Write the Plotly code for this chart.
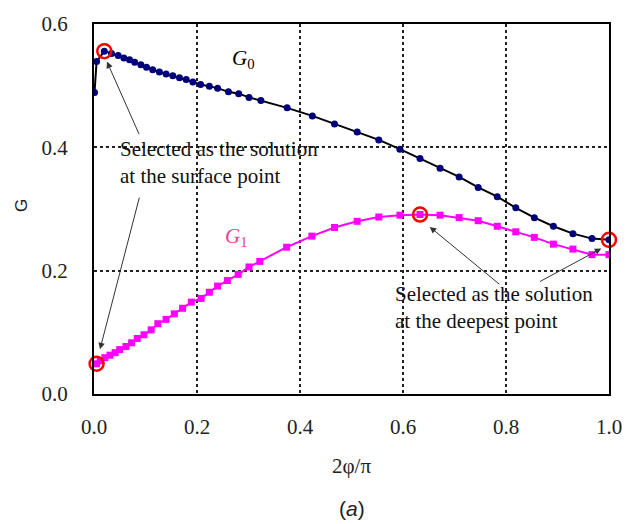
import plotly.graph_objects as go

# G0 series
g0_x = [0.001, 0.005, 0.020, 0.034, 0.047, 0.058, 0.069, 0.079, 0.091, 0.102, 0.114, 0.127,
        0.140, 0.153, 0.166, 0.179, 0.192, 0.207, 0.224, 0.240, 0.261, 0.281, 0.301, 0.324,
        0.375, 0.424, 0.467, 0.511, 0.553, 0.594, 0.633, 0.672, 0.709, 0.746, 0.783, 0.819,
        0.855, 0.892, 0.930, 0.967, 1.0]
g0_y = [0.489, 0.539, 0.556, 0.552, 0.549, 0.545, 0.542, 0.538, 0.534, 0.530, 0.526, 0.522,
        0.519, 0.516, 0.513, 0.510, 0.506, 0.502, 0.499, 0.496, 0.490, 0.487, 0.481, 0.476,
        0.464, 0.451, 0.438, 0.425, 0.412, 0.397, 0.382, 0.366, 0.352, 0.335, 0.320, 0.302,
        0.286, 0.272, 0.260, 0.252, 0.250]

# G1 series
g1_x = [0.005, 0.012, 0.021, 0.031, 0.041, 0.050, 0.062, 0.073, 0.084, 0.097, 0.111, 0.124,
        0.140, 0.156, 0.172, 0.189, 0.208, 0.224, 0.240, 0.259, 0.280, 0.301, 0.322, 0.374,
        0.423, 0.467, 0.511, 0.553, 0.594, 0.633, 0.672, 0.709, 0.746, 0.783, 0.819, 0.855,
        0.892, 0.930, 0.967, 1.0]
g1_y = [0.049, 0.054, 0.059, 0.063, 0.067, 0.072, 0.077, 0.083, 0.090, 0.096, 0.104, 0.114,
        0.121, 0.130, 0.139, 0.149, 0.155, 0.165, 0.175, 0.184, 0.194, 0.206, 0.215, 0.238,
        0.256, 0.270, 0.280, 0.287, 0.290, 0.291, 0.290, 0.286, 0.281, 0.272, 0.263, 0.254,
        0.243, 0.235, 0.226, 0.226]

# Selected solutions (red circles)
sel_x = [0.020, 0.005, 0.633, 1.0]
sel_y = [0.556, 0.049, 0.291, 0.250]

tick_vals = [0.0, 0.2, 0.4, 0.6, 0.8, 1.0]
tick_text = ["0.0", "0.2", "0.4", "0.6", "0.8", "1.0"]
ytick_vals = [0.0, 0.2, 0.4, 0.6]
ytick_text = ["0.0", "0.2", "0.4", "0.6"]

serif = "Liberation Serif"

fig = go.Figure()
fig.add_trace(go.Scatter(x=g0_x, y=g0_y, mode="lines+markers",
                         line=dict(color="black", width=2),
                         marker=dict(color="#00007a", size=7, symbol="circle"),
                         showlegend=False))
fig.add_trace(go.Scatter(x=g1_x, y=g1_y, mode="lines+markers",
                         line=dict(color="#ff00ff", width=2),
                         marker=dict(color="#ff00ff", size=7, symbol="square"),
                         showlegend=False))
fig.add_trace(go.Scatter(x=sel_x, y=sel_y, mode="markers",
                         marker=dict(symbol="circle-open", size=14, color="#ff0000",
                                     line=dict(width=2.5, color="#ff0000")),
                         showlegend=False, cliponaxis=False))

ann = []
txt_font = dict(family=serif, size=21, color="#111")
ann.append(dict(x=0.046, y=0.376, xref="x", yref="y", xanchor="left", yanchor="middle",
                align="left", showarrow=False, font=txt_font,
                text="Selected as the solution<br>at the surface point"))
ann.append(dict(x=0.581, y=0.140, xref="x", yref="y", xanchor="left", yanchor="middle",
                align="left", showarrow=False, font=txt_font,
                text="Selected as the solution<br>at the deepest point"))
arrows = [((0.0888, 0.419), (0.0251, 0.539)),
          ((0.0888, 0.321), (0.0116, 0.0724)),
          ((0.790, 0.176), (0.652, 0.271)),
          ((0.863, 0.181), (0.985, 0.236))]
for (tx, ty), (hx, hy) in arrows:
    ann.append(dict(x=hx, y=hy, ax=tx, ay=ty, xref="x", yref="y", axref="x", ayref="y",
                    showarrow=True, arrowhead=2, arrowsize=1.3, arrowwidth=1,
                    arrowcolor="#333", text=""))
ann.append(dict(x=0.29, y=0.543, xref="x", yref="y", showarrow=False,
                text="<i>G</i><sub>0</sub>", font=dict(family=serif, size=21, color="black")))
ann.append(dict(x=0.276, y=0.254, xref="x", yref="y", showarrow=False,
                text="<i>G</i><sub>1</sub>", font=dict(family=serif, size=21, color="#f0408e")))
ann.append(dict(x=0.5, y=0, xref="paper", yref="paper", yanchor="middle", yshift=-72,
                showarrow=False, text="2φ/π", font=dict(family=serif, size=21, color="#222")))
ann.append(dict(x=0.5, y=0, xref="paper", yref="paper", yanchor="middle", yshift=-114,
                showarrow=False, text="(<i>a</i>)",
                font=dict(family="Liberation Sans", size=21, color="#222")))
ann.append(dict(x=(21 - 94) / 518.0, y=(394 - 200) / 381.0, xref="paper", yref="paper",
                xanchor="center", yanchor="middle",
                showarrow=False, text="G", textangle=-90,
                font=dict(family="Liberation Sans", size=17, color="#222")))

fig.update_layout(
    width=634, height=524,
    margin=dict(l=94, r=22, t=13, b=130),
    paper_bgcolor="white", plot_bgcolor="white",
    annotations=ann,
    xaxis=dict(range=[0, 1], tickvals=tick_vals, ticktext=tick_text,
               showgrid=True, gridcolor="#222", griddash="3px,3px", gridwidth=1.5,
               showline=True, linecolor="black", linewidth=2, mirror=True,
               zeroline=False, ticks="", ticklabelstandoff=13,
               tickfont=dict(family=serif, size=21, color="#222")),
    yaxis=dict(range=[0, 0.6], tickvals=ytick_vals, ticktext=ytick_text,
               showgrid=True, gridcolor="#222", griddash="3px,3px", gridwidth=1.5,
               showline=True, linecolor="black", linewidth=2, mirror=True,
               zeroline=False, ticks="", ticklabelstandoff=20,
               tickfont=dict(family=serif, size=21, color="#222")),
)

fig.write_html("out.html")
